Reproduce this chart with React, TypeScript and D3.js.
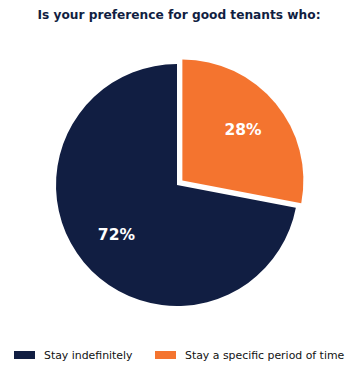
import React from "react";
import * as d3 from "d3";

const categories = ["Stay indefinitely", "Stay a specific period of time"];
const values = [72, 28];
const colors = ["#111e42", "#f4742f"];
const title = "Is your preference for good tenants who:";

export default function App() {
  const W = 358, H = 375;
  const cx = 177, cy = 185, r = 121;
  const order = [1, 0];
  const pie = d3.pie<number>().sort(null).value((i) => values[i]);
  const arcs = pie(order);
  const arc = d3.arc<any>().innerRadius(0).outerRadius(r);
  const explode = [0, 7];
  return (
    <svg width={W} height={H} style={{ position: "absolute", left: 0, top: 0, background: "#fff" }} fontFamily="DejaVu Sans">
      <text x={179} y={19} textAnchor="middle" fontSize={12.2} fontWeight="bold" fill="#111e42">{title}</text>
      {arcs.map((a) => {
        const i = a.data;
        const mid = (a.startAngle + a.endAngle) / 2;
        const dx = Math.sin(mid) * explode[i];
        const dy = -Math.cos(mid) * explode[i];
        const lr = r * 0.65;
        const lx = Math.sin(mid) * lr;
        const ly = -Math.cos(mid) * lr;
        return (
          <g key={i} transform={`translate(${cx + dx},${cy + dy})`}>
            <path d={arc(a) as string} fill={colors[i]} />
            <text x={lx} y={ly} textAnchor="middle" dominantBaseline="central" fontSize={15.5} fontWeight="bold" fill="#fff">
              {`${values[i]}%`}
            </text>
          </g>
        );
      })}
      {categories.map((c, i) => {
        const x0 = i === 0 ? 14 : 155;
        return (
          <g key={c}>
            <rect x={x0} y={351} width={21} height={8} fill={colors[i]} />
            <text x={x0 + 30} y={355} dominantBaseline="central" fontSize={10.9} fill="#111">{c}</text>
          </g>
        );
      })}
    </svg>
  );
}
